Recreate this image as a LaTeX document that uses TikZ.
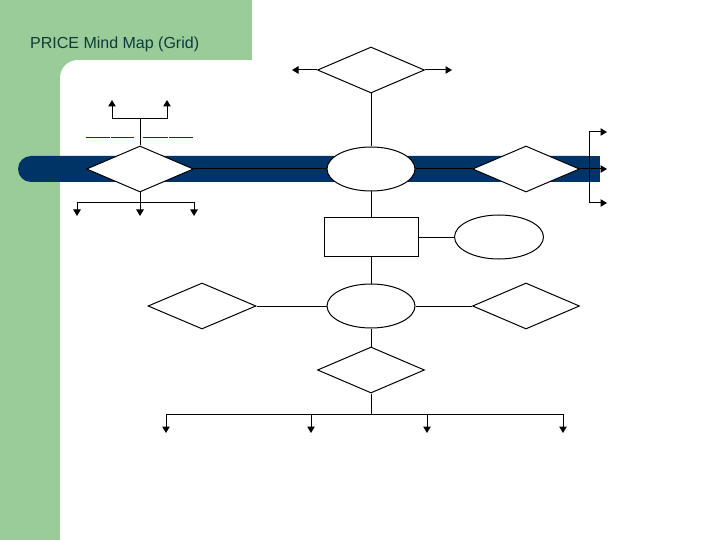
\documentclass[tikz,border=0pt]{standalone}
\usepackage{fontspec}
\setmainfont{Liberation Sans}
\usetikzlibrary{shapes.geometric,arrows.meta}
\definecolor{bggreen}{HTML}{99CC99}
\definecolor{navy}{HTML}{003366}
\definecolor{titlecol}{HTML}{0D3B3B}
\begin{document}
\begin{tikzpicture}[x=1pt,y=-1pt,
 dia/.style={diamond,draw,fill=white,line width=1pt,minimum width=107pt,minimum height=46pt,inner sep=0pt},
 ell/.style={ellipse,draw,fill=white,line width=1pt,minimum width=88pt,minimum height=44pt,inner sep=0pt},
 box/.style={rectangle,draw,fill=white,line width=1pt,minimum width=94pt,minimum height=38pt,inner sep=0pt},
 conn/.style={line width=1pt},
 arr/.style={line width=1pt,-{Triangle[length=6.5pt,width=7.5pt]}},
 blank/.style={navy,line width=1pt}]
\useasboundingbox (0,0) rectangle (720,540);
\fill[white] (0,0) rectangle (720,540);
\fill[bggreen] (0,0) rectangle (252,60);
\fill[bggreen] (0,0) rectangle (60,540);
\fill[bggreen] (60,60) rectangle (78,78);
\fill[white] (78,78) circle[radius=18pt];
\fill[white] (78,60) rectangle (100,100);
\fill[white] (60,78) rectangle (100,100);
\node[anchor=base west,text=titlecol,font=\fontsize{16}{18}\selectfont,inner sep=0pt] (title) at (30,49) {PRICE Mind Map (Grid)};
% band
\fill[navy,rounded corners=13pt] (18,156) rectangle (600,182);
\fill[navy] (580,156) rectangle (600,182);
% nodes
\node[dia] (top) at (371,70) {};
\node[ell] (c1) at (371,169) {};
\node[dia] (l1) at (140,169) {};
\node[dia] (r1) at (526,169) {};
\node[box] (rect) at (371,237) {};
\node[ell,minimum width=89pt] (e2) at (499,237) {};
\node[ell] (c3) at (371,306) {};
\node[dia,minimum width=108pt] (l3) at (202,306) {};
\node[dia] (r3) at (526,306) {};
\node[dia] (d4) at (371,370) {};
% coordinates
\coordinate (topL) at (292,70);
\coordinate (topR) at (452,70);
\coordinate (rJoinT) at (589,132);
\coordinate (rJoinB) at (589,203);
\coordinate (rArrT) at (607,132);
\coordinate (rArrM) at (607,169);
\coordinate (rArrB) at (607,203);
\coordinate (lJoinT) at (140,119);
\coordinate (lUpA) at (112,100);
\coordinate (lUpB) at (167,100);
\coordinate (lJoinB) at (140,203);
\coordinate (lDnA) at (77,216);
\coordinate (lDnB) at (140,216);
\coordinate (lDnC) at (194,216);
\coordinate (bJoin) at (371,414);
\coordinate (bA) at (166,433);
\coordinate (bB) at (311,433);
\coordinate (bC) at (427,433);
\coordinate (bD) at (563,433);
% connectors
\draw[conn] (top.south) -- (c1.north);
\draw[arr] (top.west) -- (topL);
\draw[arr] (top.east) -- (topR);
\draw[conn] (l1.east) -- (c1.west);
\draw[conn] (c1.east) -- (r1.west);
\draw[arr] (r1.east) -- (rArrM);
\draw[conn] (rJoinT) -- (rJoinB);
\draw[arr] (rJoinT) -- (rArrT);
\draw[arr] (rJoinB) -- (rArrB);
\draw[conn] (l1.north) -- (lJoinT);
\draw[arr] (lJoinT) -| (lUpA);
\draw[arr] (lJoinT) -| (lUpB);
\draw[arr] (l1.south) -- (lDnB);
\draw[arr] (lJoinB) -| (lDnA);
\draw[arr] (lJoinB) -| (lDnC);
\draw[blank] (86,138) -- (110,138);
\draw[blank] (111,138) -- (134,138);
\draw[blank] (143,138) -- (168,138);
\draw[blank] (169,138) -- (193,138);
\draw[conn] (c1.south) -- (rect.north);
\draw[conn] (rect.east) -- (e2.west);
\draw[conn] (rect.south) -- (c3.north);
\draw[conn] (l3.east) -- (c3.west);
\draw[conn] (c3.east) -- (r3.west);
\draw[conn] (c3.south) -- (d4.north);
\draw[conn] (d4.south) -- (bJoin);
\draw[arr] (bJoin) -| (bA);
\draw[arr] (bJoin) -| (bB);
\draw[arr] (bJoin) -| (bC);
\draw[arr] (bJoin) -| (bD);
\end{tikzpicture}
\end{document}
